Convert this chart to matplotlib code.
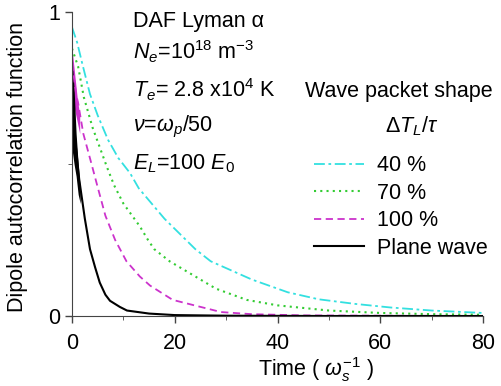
import matplotlib
matplotlib.use('Agg')
import matplotlib.pyplot as plt

plt.rcParams['font.family'] = ['Liberation Sans', 'DejaVu Sans']
plt.rcParams['mathtext.fontset'] = 'custom'
plt.rcParams['mathtext.rm'] = 'Liberation Sans'
plt.rcParams['mathtext.it'] = 'Liberation Sans:italic'

# values
t_40 = [0, 1, 2, 3.5, 5, 7, 9, 11.3, 13, 15, 18, 21, 24, 27, 31, 35, 42, 48, 55, 62, 70, 80]
v_40 = [0.95, 0.9, 0.83, 0.73, 0.66, 0.58, 0.52, 0.47, 0.42, 0.38, 0.32, 0.27, 0.22,
        0.18, 0.15, 0.12, 0.078, 0.055, 0.04, 0.028, 0.018, 0.01]

t_70 = [0, 1.2, 2.3, 4, 6.8, 8.2, 10, 13.2, 14.8, 16, 19, 23, 28, 34, 40, 50, 60, 70, 80]
v_70 = [0.88, 0.82, 0.72, 0.62, 0.49, 0.43, 0.37, 0.295, 0.25, 0.22, 0.18, 0.14, 0.09,
        0.053, 0.035, 0.018, 0.01, 0.006, 0.004]

t_100 = [0, 0.8, 1.2, 2.2, 3.8, 4.9, 6.5, 8.4, 10.6, 13.2, 15.2, 19.6, 25, 29, 35, 45, 60, 80]
v_100 = [0.83, 0.73, 0.7, 0.6, 0.5, 0.43, 0.33, 0.25, 0.18, 0.13, 0.1, 0.053, 0.03, 0.013,
         0.006, 0.002, 0.001, 0.0]

t_pw = [0, 0.5, 1.4, 2.5, 3.5, 4.5, 5.4, 6.5, 7.4, 9.3, 10.7, 15, 20, 30, 50, 80]
v_pw = [0.72, 0.6, 0.45, 0.32, 0.22, 0.16, 0.11, 0.07, 0.05, 0.03, 0.018, 0.008, 0.003,
        0.001, 0.0, 0.0]

# noisy start of the curves (envelopes)
band_pw_t = [0, 0.4, 0.8, 1.2, 1.6]
band_pw_hi = [0.85, 0.75, 0.6, 0.5, 0.42]
band_pw_lo = [0.55, 0.5, 0.46, 0.4, 0.37]
band_100_t = [0, 0.5, 1.0, 1.5]
band_100_hi = [0.88, 0.8, 0.72, 0.66]
band_100_lo = [0.7, 0.68, 0.64, 0.6]

W, H = 502, 386
fig = plt.figure(figsize=(W / 100, H / 100), dpi=100)
ax = fig.add_axes([72 / W, 1 - 316 / H, 411 / W, 304 / H])

c40 = '#33e0e0'
c70 = '#33cc33'
c100 = '#cc33cc'

ax.plot(t_40, v_40, color=c40, ls=(0, (6, 2, 1.5, 2)), lw=1.3, label='40 %')
ax.plot(t_70, v_70, color=c70, ls=(0, (1, 2)), lw=1.5, label='70 %')
ax.plot(t_100, v_100, color=c100, ls=(0, (4, 2.5)), lw=1.3, label='100 %')
ax.plot(t_pw, v_pw, color='black', ls='-', lw=1.5, label='Plane wave')
ax.fill_between(band_100_t, band_100_lo, band_100_hi, color=c100, lw=0)
ax.fill_between(band_pw_t, band_pw_lo, band_pw_hi, color='black', lw=0)

fs = 15.5
ax.set_xlim(0, 80)
ax.set_ylim(0, 1)
ax.set_xticks([0, 20, 40, 60, 80])
ax.set_xticks([10, 30, 50, 70], minor=True)
ax.set_yticks([0, 1])
ax.set_yticks([0.5], minor=True)
ax.tick_params(direction='out', labelsize=fs, length=5, color='#444444', width=1)
ax.tick_params(axis='x', pad=7)
ax.tick_params(which='minor', direction='out', length=3, color='#444444')
for s in ['top', 'right']:
    ax.spines[s].set_visible(False)
for s in ['left', 'bottom']:
    ax.spines[s].set_color('#444444')

fig.text(258 / W, 1 - 370 / H, 'Time ( $\\omega_s^{\\mathit{-1}}$ )', fontsize=fs, va='center')
ax.set_ylabel('Dipole autocorrelation function', fontsize=fs)
ax.yaxis.set_label_coords((28 - 72) / 411, 0.49)

fig.text(133 / W, 1 - 22 / H, 'DAF Lyman \u03b1', fontsize=fs, va='center')
fig.text(133 / W, 1 - 52 / H, '$N_e$=10$^{18}$ m$^{-3}$', fontsize=fs, va='center')
fig.text(133 / W, 1 - 90 / H, '$T_e$= 2.8 x10$^{4}$ K', fontsize=fs, va='center')
fig.text(133 / W, 1 - 127 / H, '$\\nu$=$\\omega_p$/50', fontsize=fs, va='center')
fig.text(133 / W, 1 - 164 / H, '$E_L$=100 $E_0$', fontsize=fs, va='center')

fig.text(305 / W, 1 - 92 / H, 'Wave packet shape', fontsize=fs, va='center')
fig.text(412 / W, 1 - 126 / H, '$\\mathit{\\Delta}T_L/\\tau$', fontsize=fs, va='center', ha='center')

leg = ax.legend(loc='upper left', bbox_to_anchor=(295 / W, 1 - 136 / H),
                bbox_transform=fig.transFigure, frameon=False, fontsize=fs,
                handlelength=2.3, labelspacing=0.3, handletextpad=0.6)

fig.savefig('out.png', dpi=100)
